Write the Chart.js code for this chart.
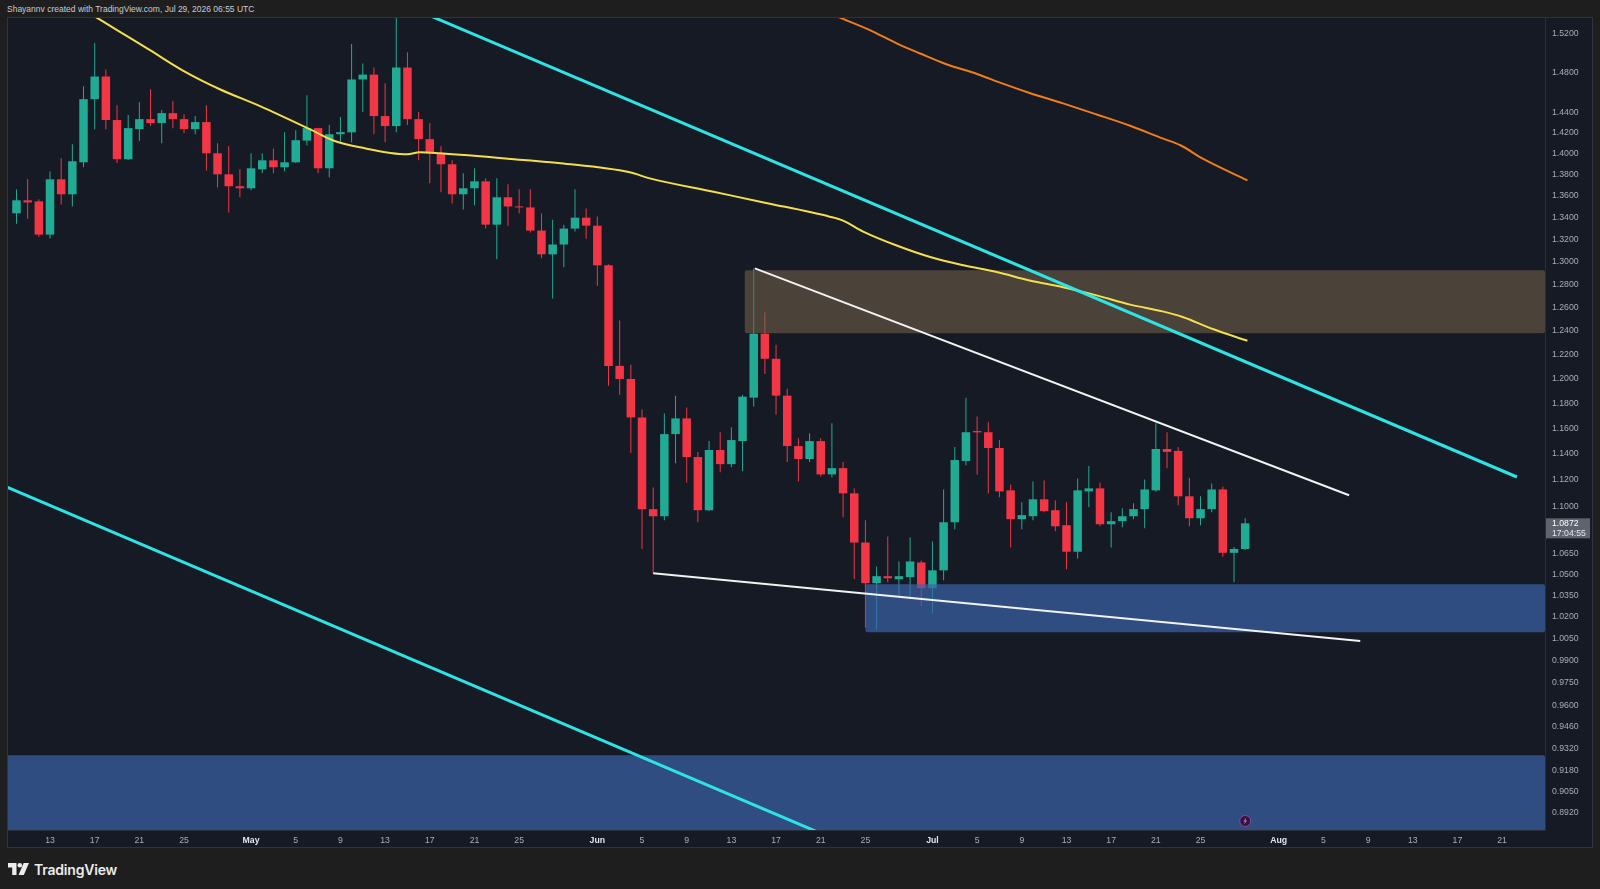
<!DOCTYPE html>
<html>
<head>
<meta charset="utf-8">
<title>Daily chart</title>
<script src="https://cdn.jsdelivr.net/npm/chart.js@4.4.1/dist/chart.umd.min.js"></script>
<style>
  html, body { margin: 0; padding: 0; }
  body {
    width: 1600px; height: 889px; overflow: hidden; position: relative;
    background: #1e1e1e; font-family: "Liberation Sans", Arial, sans-serif;
  }
  #header { position: absolute; left: 7px; top: 4px; font-size: 8.5px; color: #c8cbd2; white-space: nowrap; }
  #wrap { position: absolute; left: 7px; top: 17px; width: 1586px; height: 831px; }
  #footer { position: absolute; left: 8px; top: 860px; height: 18px; display: flex; align-items: center; }
  #footer span { margin-left: 5px; font-family: Inter, "Noto Sans", sans-serif; font-weight: 600; font-size: 14px; color: #ececec; letter-spacing: -0.2px; }
</style>
</head>
<body>
<div id="header">Shayannv created with TradingView.com, Jul 29, 2026 06:55 UTC</div>
<div id="wrap"><canvas id="chart" width="1586" height="831"></canvas></div>
<div id="footer">
  <svg width="21" height="12" viewBox="0 0 21 12">
    <path d="M0 0 H8.5 V12 H4.2 V4.5 H0 Z" fill="#ececec"/>
    <circle cx="11.8" cy="2.3" r="2.3" fill="#ececec"/>
    <path d="M15.6 0 H21 L15.8 12 H10.6 Z" fill="#ececec"/>
  </svg>
  <span>TradingView</span>
</div>

<script>
// Daily candles, day 0 = Apr 10 ... day 110 = Jul 29
const opens = [
  1.344, 1.356, 1.355, 1.3245, 1.3756, 1.3616, 1.3917, 1.4531, 1.4758, 1.4325,
  1.3946, 1.4236, 1.4334, 1.4295, 1.4393, 1.4334, 1.4236, 1.4305, 1.4003, 1.3803,
  1.3691, 1.3672, 1.385, 1.3936, 1.387, 1.3917, 1.4125, 1.4246, 1.386, 1.4187,
  1.4205, 1.4728, 1.4777, 1.4364, 1.4266, 1.4849, 1.4334, 1.4139, 1.4003, 1.3898,
  1.3616, 1.3672, 1.3737, 1.3336, 1.3588, 1.3503, 1.3494, 1.3282, 1.3068, 1.3156,
  1.330, 1.340, 1.3327, 1.297, 1.2108, 1.200, 1.1689, 1.0978, 1.0925, 1.1556,
  1.1681, 1.1376, 1.097, 1.1431, 1.1321, 1.1501, 1.1848, 1.2377, 1.2167, 1.1864,
  1.1462, 1.1361, 1.1501, 1.1242, 1.129, 1.1097, 1.073, 1.0436, 1.0486, 1.0464,
  1.0479, 1.0585, 1.040, 1.0528, 1.088, 1.1345, 1.158, 1.1571, 1.1447, 1.112,
  1.0903, 1.0925, 1.1052, 1.097, 1.0858, 1.0663, 1.1112, 1.1135, 1.0865, 1.0888,
  1.0925, 1.0978, 1.112, 1.1439, 1.1424, 1.1075, 1.091, 1.0978, 1.1127, 1.0655,
  1.0683
];
const highs = [
  1.366, 1.376, 1.357, 1.383, 1.3955, 1.409, 1.466, 1.510, 1.4828, 1.447,
  1.4374, 1.450, 1.463, 1.4423, 1.451, 1.4383, 1.4364, 1.447, 1.410, 1.407,
  1.385, 1.4003, 1.4003, 1.405, 1.4207, 1.4226, 1.457, 1.425, 1.4276, 1.4354,
  1.509, 1.489, 1.4849, 1.469, 1.536, 1.5005, 1.4403, 1.4295, 1.407, 1.3936,
  1.3812, 1.386, 1.3765, 1.3765, 1.371, 1.3663, 1.3663, 1.3438, 1.338, 1.3336,
  1.3663, 1.3484, 1.341, 1.298, 1.249, 1.2117, 1.1753, 1.1142, 1.1721, 1.1864,
  1.1768, 1.1416, 1.1501, 1.1571, 1.161, 1.1872, 1.2943, 1.2559, 1.2284, 1.192,
  1.1524, 1.1563, 1.1524, 1.1642, 1.1337, 1.1135, 1.0895, 1.0556, 1.0775, 1.0592,
  1.0768, 1.060, 1.0738, 1.1127, 1.1454, 1.1848, 1.1697, 1.165, 1.1509, 1.1165,
  1.103, 1.1187, 1.1195, 1.1045, 1.103, 1.121, 1.1306, 1.118, 1.0955, 1.0985,
  1.1022, 1.1202, 1.1642, 1.1571, 1.1454, 1.1217, 1.1075, 1.1172, 1.115, 1.0697,
  1.091
];
const lows = [
  1.3345, 1.339, 1.3227, 1.321, 1.3522, 1.3503, 1.387, 1.4236, 1.4236, 1.391,
  1.394, 1.412, 1.4266, 1.410, 1.4246, 1.4197, 1.4187, 1.384, 1.368, 1.3447,
  1.3588, 1.3653, 1.3812, 1.3812, 1.3831, 1.391, 1.408, 1.3812, 1.3775, 1.411,
  1.411, 1.4403, 1.4187, 1.411, 1.4207, 1.4276, 1.3936, 1.3719, 1.3635, 1.3531,
  1.3475, 1.3513, 1.330, 1.3024, 1.3327, 1.3438, 1.3264, 1.3033, 1.268, 1.2952,
  1.3273, 1.3209, 1.279, 1.1944, 1.1872, 1.1408, 1.0683, 1.0507, 1.0895, 1.1329,
  1.118, 1.088, 1.0965, 1.1258, 1.1298, 1.1266, 1.1776, 1.2042, 1.1713, 1.1337,
  1.1187, 1.1337, 1.1226, 1.1218, 1.0918, 1.0464, 1.0122, 1.0108, 1.0443, 1.0343,
  1.0336, 1.0274, 1.0226, 1.0457, 1.0828, 1.1313, 1.1242, 1.1097, 1.1067, 1.0693,
  1.0828, 1.0895, 1.0955, 1.0813, 1.0535, 1.0613, 1.0993, 1.085, 1.0693, 1.0843,
  1.0903, 1.0835, 1.111, 1.129, 1.1008, 1.085, 1.0858, 1.0955, 1.0627, 1.0443,
  1.0676
];
const closes = [
  1.356, 1.354, 1.3245, 1.3756, 1.3616, 1.3927, 1.4531, 1.4758, 1.4325, 1.3946,
  1.4246, 1.4334, 1.4295, 1.4393, 1.4334, 1.4236, 1.4305, 1.4003, 1.3803, 1.3691,
  1.3672, 1.386, 1.3936, 1.387, 1.3917, 1.4129, 1.4246, 1.386, 1.4187, 1.4207,
  1.4728, 1.4777, 1.4364, 1.4266, 1.4849, 1.4334, 1.4139, 1.4003, 1.3898, 1.3616,
  1.3672, 1.3737, 1.3336, 1.3588, 1.3503, 1.3494, 1.3282, 1.3068, 1.3156, 1.330,
  1.340, 1.3327, 1.297, 1.2108, 1.200, 1.1689, 1.0978, 1.0925, 1.1556, 1.1681,
  1.1376, 1.097, 1.1431, 1.1321, 1.1509, 1.1856, 1.2377, 1.2167, 1.1864, 1.1462,
  1.1361, 1.1501, 1.1242, 1.129, 1.1097, 1.073, 1.0436, 1.0486, 1.0471, 1.0486,
  1.0592, 1.040, 1.0528, 1.088, 1.1353, 1.1571, 1.157, 1.1447, 1.1112, 1.0903,
  1.0933, 1.1052, 1.0963, 1.085, 1.0663, 1.112, 1.1135, 1.0865, 1.0888, 1.0925,
  1.0978, 1.1127, 1.1439, 1.1416, 1.1075, 1.091, 1.0978, 1.1127, 1.0655, 1.0683,
  1.0872
];

// moving averages
const yellowMaDays = [7.1, 9.0, 11.95, 14.9, 18.2, 21.8, 26.3, 28.3, 30.75, 35.0, 36.1, 37.9, 45.7, 48.7, 54.9, 56.7,
  62.4, 67.0, 72.8, 74.0, 75.8, 78.8, 81.8, 84.8, 87.75, 90.7, 93.7, 96.7, 99.7, 102.6, 104.4, 107.1, 110.2];
const yellowMaValues = [1.537, 1.5234, 1.5026, 1.4818, 1.463, 1.4462, 1.4233, 1.4129, 1.4061, 1.3993, 1.4013, 1.4003, 1.3936, 1.3908, 1.3822, 1.3765,
  1.3639, 1.3538, 1.3409, 1.3373, 1.3273, 1.3147, 1.3044, 1.297, 1.2911, 1.2836, 1.2777, 1.2706, 1.2626, 1.2568, 1.252, 1.2417, 1.2318];
const orangeMaDays = [73.6, 76.4, 78.8, 80.9, 83.3, 86.0, 88.3, 90.7, 93.7, 96.7, 99.7, 102.6, 104.2, 106.2, 110.2];
const orangeMaValues = [1.537, 1.5234, 1.5096, 1.4992, 1.488, 1.4784, 1.4686, 1.4593, 1.4489, 1.438, 1.4269, 1.4146, 1.408, 1.3952, 1.3746];

// trend lines: [start day, end day] / [start price, end price]
const channelTopDays = [37.0, 134.33];
const channelTopValues = [1.5385, 1.1222];
const channelBottomDays = [-0.85, 72];
const channelBottomValues = [1.1145, 0.8795];
const wedgeTopDays = [66.1, 119.3];
const wedgeTopValues = [1.2943, 1.1083];
const wedgeBottomDays = [57.0, 120.3];
const wedgeBottomValues = [1.0507, 1.0031];

// zones, extended to the right edge
const zoneFrom = [65.2, 76, -0.85];
const zoneHigh = [1.2926, 1.0429, 0.9277];
const zoneLow = [1.2381, 1.0092, 0.87];
const zoneColors = ['rgba(120, 100, 75, 0.55)', 'rgba(60, 100, 170, 0.7)', 'rgba(60, 100, 170, 0.7)'];

// axis ticks
const priceTicks = [1.52, 1.48, 1.44, 1.42, 1.40, 1.38, 1.36, 1.34, 1.32, 1.30, 1.28, 1.26, 1.24, 1.22, 1.20, 1.18,
  1.16, 1.14, 1.12, 1.10, 1.065, 1.05, 1.035, 1.02, 1.005, 0.99, 0.975, 0.96, 0.946, 0.932, 0.918, 0.905, 0.892];
const tickDays = [3, 7, 11, 15, 21, 25, 29, 33, 37, 41, 45, 52, 56, 60, 64, 68, 72, 76, 82, 86, 90, 94, 98, 102, 106,
  113, 117, 121, 125, 129, 133];
const tickLabels = ['13', '17', '21', '25', 'May', '5', '9', '13', '17', '21', '25', 'Jun', '5', '9', '13', '17', '21', '25',
  'Jul', '5', '9', '13', '17', '21', '25', 'Aug', '5', '9', '13', '17', '21'];
const monthLabels = ['May', 'Jun', 'Jul', 'Aug'];
const countdown = '17:04:55';

const upColor = '#22ab94';
const downColor = '#f23645';
const axisFont = '"Liberation Sans", Arial, sans-serif';

Chart.defaults.font.family = axisFont;

function toPoints(days, values) {
  return days.map((d, i) => ({ x: d, y: values[i] }));
}

const candleColors = closes.map((c, i) => (c >= opens[i] ? upColor : downColor));
const wickData = highs.map((h, i) => ({ x: i, y: [lows[i], h] }));
const bodyData = opens.map((o, i) => ({ x: i, y: [Math.min(o, closes[i]), Math.max(o, closes[i])] }));

function lineSet(points, color, width, order, smooth) {
  return {
    type: 'line',
    data: points,
    borderColor: color,
    borderWidth: width,
    pointRadius: 0,
    fill: false,
    tension: 0,
    cubicInterpolationMode: smooth ? 'monotone' : 'default',
    order: order
  };
}

/**
 * Background fill for the whole panel
 */
const backgroundPlugin = {
  id: 'panelBackground',
  beforeDraw(chart) {
    const ctx = chart.ctx;
    ctx.save();
    ctx.fillStyle = '#161a25';
    ctx.fillRect(0, 0, chart.width, chart.height);
    ctx.restore();
  }
};

/**
 * Price zones, drawn right after the candle bodies
 */
const zonePlugin = {
  id: 'zones',
  afterDatasetDraw(chart, args) {
    if (chart.data.datasets[args.index].label !== 'bodies') return;
    const { ctx, chartArea: a, scales: { x, y } } = chart;
    ctx.save();
    ctx.beginPath();
    ctx.rect(a.left, a.top, a.right - a.left, a.bottom - a.top);
    ctx.clip();
    zoneFrom.forEach((d, i) => {
      const left = Math.max(x.getPixelForValue(d), a.left);
      const top = y.getPixelForValue(zoneHigh[i]);
      const bottom = y.getPixelForValue(zoneLow[i]);
      ctx.fillStyle = zoneColors[i];
      ctx.beginPath();
      if (ctx.roundRect) {
        ctx.roundRect(left, top, a.right - left, bottom - top, 2);
      } else {
        ctx.rect(left, top, a.right - left, bottom - top);
      }
      ctx.fill();
    });
    ctx.restore();
  }
};

/**
 * Last price label, event marker and panel outline
 */
const overlayPlugin = {
  id: 'overlay',
  afterDraw(chart) {
    const { ctx, chartArea: a, scales: { x, y } } = chart;
    const last = closes.length - 1;
    const py = y.getPixelForValue(closes[last]);

    ctx.save();
    ctx.fillStyle = '#5f636e';
    ctx.fillRect(y.left + 1, py - 5, 44, 20);
    ctx.font = '8.7px ' + axisFont;
    ctx.textBaseline = 'middle';
    ctx.textAlign = 'left';
    ctx.fillStyle = '#ffffff';
    ctx.fillText(closes[last].toFixed(4), y.left + 7, py);
    ctx.fillStyle = '#e6e8ee';
    ctx.fillText(countdown, y.left + 7, py + 10);

    // event marker under the last candle
    const ix = x.getPixelForValue(last);
    const iy = a.bottom - 9;
    ctx.beginPath();
    ctx.arc(ix, iy, 5.5, 0, Math.PI * 2);
    ctx.fillStyle = '#2a1a33';
    ctx.fill();
    ctx.lineWidth = 1;
    ctx.strokeStyle = '#9141ad';
    ctx.stroke();
    ctx.beginPath();
    ctx.moveTo(ix + 1.2, iy - 3.6);
    ctx.lineTo(ix - 2, iy + 0.6);
    ctx.lineTo(ix - 0.2, iy + 0.6);
    ctx.lineTo(ix - 1.2, iy + 3.6);
    ctx.lineTo(ix + 2, iy - 0.6);
    ctx.lineTo(ix + 0.2, iy - 0.6);
    ctx.closePath();
    ctx.fillStyle = '#d35ded';
    ctx.fill();

    ctx.strokeStyle = '#2f333d';
    ctx.strokeRect(0.5, 0.5, chart.width - 1, chart.height - 1);
    ctx.restore();
  }
};

new Chart(document.getElementById('chart'), {
  type: 'bar',
  data: {
    datasets: [
      {
        label: 'wicks',
        data: wickData,
        backgroundColor: candleColors,
        grouped: false,
        maxBarThickness: 1,
        order: 6
      },
      {
        label: 'bodies',
        data: bodyData,
        backgroundColor: candleColors,
        grouped: false,
        barPercentage: 0.9,
        categoryPercentage: 0.9,
        maxBarThickness: 8.5,
        minBarLength: 1,
        order: 5
      },
      lineSet(toPoints(orangeMaDays, orangeMaValues), '#ef7d1a', 2, 4, true),
      lineSet(toPoints(yellowMaDays, yellowMaValues), '#f3df4d', 2, 4, true),
      lineSet(toPoints(wedgeTopDays, wedgeTopValues), '#f2f2f2', 2, 3, false),
      lineSet(toPoints(wedgeBottomDays, wedgeBottomValues), '#f2f2f2', 2, 3, false),
      lineSet(toPoints(channelTopDays, channelTopValues), '#2ee3e3', 3, 2, false),
      lineSet(toPoints(channelBottomDays, channelBottomValues), '#2ee3e3', 3, 2, false)
    ]
  },
  options: {
    responsive: false,
    animation: false,
    events: [],
    layout: { padding: 0 },
    plugins: {
      legend: { display: false },
      tooltip: { enabled: false }
    },
    scales: {
      x: {
        type: 'linear',
        min: -0.85,
        max: 136.84,
        offset: false,
        bounds: 'data',
        grid: { display: false, drawTicks: false, offset: false },
        border: { display: true, color: '#2a2e39' },
        afterBuildTicks: scale => {
          scale.ticks = tickDays.map(v => ({ value: v }));
        },
        afterFit: scale => {
          scale.height = 18;
          scale.paddingLeft = 0;
          scale.paddingRight = 0;
        },
        ticks: {
          autoSkip: false,
          maxRotation: 0,
          padding: 5,
          callback: (value, index) => tickLabels[index],
          color: ctx => (monthLabels.includes(tickLabels[ctx.index]) ? '#e3e5ea' : '#a9acb4'),
          font: ctx => ({
            size: 8.7,
            weight: monthLabels.includes(tickLabels[ctx.index]) ? '600' : 'normal'
          })
        }
      },
      y: {
        type: 'logarithmic',
        position: 'right',
        min: 0.8815,
        max: 1.5371,
        bounds: 'data',
        grid: { display: false, drawTicks: false },
        border: { display: true, color: '#2a2e39' },
        afterBuildTicks: scale => {
          scale.ticks = priceTicks.map(v => ({ value: v }));
        },
        afterFit: scale => {
          scale.width = 48;
          scale.paddingTop = 0;
          scale.paddingBottom = 0;
        },
        ticks: {
          autoSkip: false,
          padding: 7,
          color: '#a9acb4',
          font: { size: 8.7 },
          callback: value => Number(value).toFixed(4)
        }
      }
    }
  },
  plugins: [backgroundPlugin, zonePlugin, overlayPlugin]
});
</script>
</body>
</html>
